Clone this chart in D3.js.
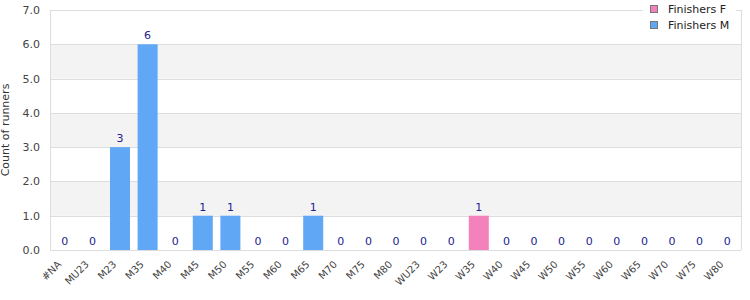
<!DOCTYPE html>
<html>
<head>
<meta charset="utf-8">
<script src="https://d3js.org/d3.v7.min.js"></script>
<style>
  body { margin: 0; background: #fff; }
  text { font-family: "DejaVu Sans", sans-serif; }
</style>
</head>
<body>
<script>
// categories and series values
const categories = ["#NA", "MU23", "M23", "M35", "M40", "M45", "M50", "M55", "M60", "M65", "M70", "M75", "M80",
  "WU23", "W23", "W35", "W40", "W45", "W50", "W55", "W60", "W65", "W70", "W75", "W80"];
const finishersF = [0, 0, 0, 0, 0, 0, 0, 0, 0, 0, 0, 0, 0, 0, 0, 1, 0, 0, 0, 0, 0, 0, 0, 0, 0];
const finishersM = [0, 0, 3, 6, 0, 1, 1, 0, 0, 1, 0, 0, 0, 0, 0, 0, 0, 0, 0, 0, 0, 0, 0, 0, 0];
const yTicks = [0, 1, 2, 3, 4, 5, 6, 7];
const seriesNames = ["Finishers F", "Finishers M"];
const seriesColors = ["#f382bc", "#60a8f5"];

const width = 750, height = 300;
const margin = { top: 10, right: 9, bottom: 50, left: 50 };

const svg = d3.select("body").append("svg")
  .attr("width", width)
  .attr("height", height);

const x = d3.scaleBand()
  .domain(categories)
  .range([margin.left + 1, width - margin.right])
  .paddingInner(0.275)
  .paddingOuter(0.1375);

const y = d3.scaleLinear()
  .domain([0, 7])
  .range([height - margin.bottom, margin.top]);

// alternating bands
svg.append("g").selectAll("rect")
  .data(yTicks.slice(0, -1))
  .join("rect")
  .attr("x", margin.left)
  .attr("width", width - margin.right - margin.left)
  .attr("y", d => y(d + 1))
  .attr("height", d => y(d) - y(d + 1))
  .attr("fill", d => d % 2 === 1 ? "#f3f3f3" : "#fff");

// grid lines
svg.append("g").selectAll("line")
  .data(yTicks)
  .join("line")
  .attr("x1", margin.left)
  .attr("x2", width - margin.right)
  .attr("y1", d => Math.round(y(d)) + 0.5)
  .attr("y2", d => Math.round(y(d)) + 0.5)
  .attr("stroke", "#dddddd");

// plot frame sides
svg.append("line")
  .attr("x1", margin.left + 0.5).attr("x2", margin.left + 0.5)
  .attr("y1", margin.top).attr("y2", height - margin.bottom)
  .attr("stroke", "#dddddd");
svg.append("line")
  .attr("x1", width - margin.right + 0.5).attr("x2", width - margin.right + 0.5)
  .attr("y1", margin.top).attr("y2", height - margin.bottom)
  .attr("stroke", "#dddddd");

// y axis labels
const yAxis = svg.append("g")
  .attr("transform", `translate(${margin.left},0)`)
  .call(d3.axisLeft(y).tickValues(yTicks).tickFormat(d3.format(".1f")).tickSize(0).tickPadding(10));
yAxis.select(".domain").remove();
yAxis.selectAll("text")
  .attr("font-family", "DejaVu Sans")
  .attr("font-size", 11)
  .attr("fill", "#444");

svg.append("text")
  .attr("transform", `translate(9,${(margin.top + height - margin.bottom) / 2}) rotate(-90)`)
  .attr("text-anchor", "middle")
  .attr("font-size", 11)
  .attr("fill", "#333")
  .text("Count of runners");

// x axis labels
const xAxis = svg.append("g")
  .attr("transform", `translate(0,${height - margin.bottom})`)
  .call(d3.axisBottom(x).tickSize(0).tickPadding(0));
xAxis.select(".domain").remove();
xAxis.selectAll("text")
  .attr("font-family", "DejaVu Sans")
  .attr("font-size", 10)
  .attr("fill", "#444")
  .attr("text-anchor", "end")
  .attr("dy", 0)
  .attr("transform", "translate(-3,15) rotate(-45)");

// stacked bars
const rows = categories.map((c, i) => ({ cat: c, F: finishersF[i], M: finishersM[i] }));
const stack = d3.stack().keys(["F", "M"])(rows);

svg.append("g").selectAll("g")
  .data(stack)
  .join("g")
  .attr("fill", (d, i) => seriesColors[i])
  .selectAll("rect")
  .data(d => d.filter(s => s[1] > s[0]))
  .join("rect")
  .attr("x", d => x(d.data.cat))
  .attr("width", x.bandwidth())
  .attr("y", d => y(d[1]))
  .attr("height", d => y(d[0]) - y(d[1]));

// value labels
svg.append("g").selectAll("text")
  .data(rows)
  .join("text")
  .attr("x", d => x(d.cat) + x.bandwidth() / 2)
  .attr("y", d => y(d.F + d.M) - 5)
  .attr("text-anchor", "middle")
  .attr("font-size", 11)
  .attr("fill", "#22228f")
  .text(d => d.F + d.M);

// legend
const legend = svg.append("g");
legend.append("rect")
  .attr("x", 643).attr("y", 0)
  .attr("width", 93).attr("height", 34)
  .attr("fill", "#fff");
const items = legend.selectAll("g")
  .data(seriesNames)
  .join("g")
  .attr("transform", (d, i) => `translate(650,${5 + i * 16})`);
items.append("rect")
  .attr("x", 0.5).attr("y", 0.5)
  .attr("width", 7).attr("height", 7)
  .attr("fill", (d, i) => seriesColors[i])
  .attr("stroke", "#777");
items.append("text")
  .attr("x", 18)
  .attr("y", 8)
  .attr("font-size", 11)
  .attr("fill", "#222")
  .text(d => d);
</script>
</body>
</html>
